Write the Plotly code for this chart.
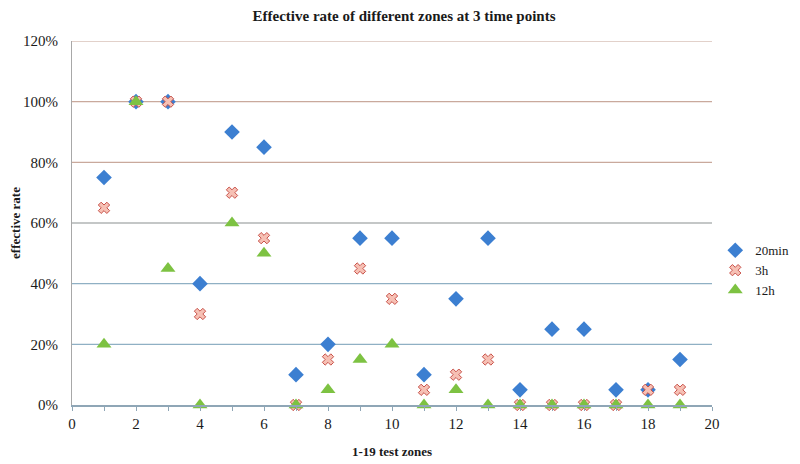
import plotly.graph_objects as go

# test zones 1-19 and effective rates (fraction) at three time points
zones = list(range(1, 20))
rate_20min = [0.75, 1.00, 1.00, 0.40, 0.90, 0.85, 0.10, 0.20, 0.55, 0.55,
              0.10, 0.35, 0.55, 0.05, 0.25, 0.25, 0.05, 0.05, 0.15]
rate_3h = [0.65, 1.00, 1.00, 0.30, 0.70, 0.55, 0.00, 0.15, 0.45, 0.35,
           0.05, 0.10, 0.15, 0.00, 0.00, 0.00, 0.00, 0.05, 0.05]
rate_12h = [0.20, 1.00, 0.45, 0.00, 0.60, 0.50, 0.00, 0.05, 0.15, 0.20,
            0.00, 0.05, 0.00, 0.00, 0.00, 0.00, 0.00, 0.00, 0.00]

grid_levels = [0.2, 0.4, 0.6, 0.8, 1.0, 1.2]
grid_colors = ["#8fb0c4", "#8fb0c4", "#b0b4b4", "#c9a99c", "#c9a99c", "#d8c2b8"]

SERIF = "Liberation Serif, Times New Roman, serif"

fig = go.Figure()
fig.add_trace(go.Scatter(
    x=zones, y=rate_20min, mode="markers", name="20min",
    marker=dict(symbol="diamond", size=12, color="#3c7fd1"),
    cliponaxis=False,
))
fig.add_trace(go.Scatter(
    x=zones, y=rate_3h, mode="markers", name="3h",
    marker=dict(symbol="x", size=10, color="#f6c0b4",
                line=dict(color="#c9524a", width=1)),
    cliponaxis=False,
))
fig.add_trace(go.Scatter(
    x=zones, y=rate_12h, mode="markers", name="12h",
    marker=dict(symbol="triangle-up", size=13, color="#7dc242"),
    cliponaxis=False,
))

for lvl, col in zip(grid_levels, grid_colors):
    fig.add_shape(type="line", xref="paper", x0=0, x1=1, yref="y", y0=lvl, y1=lvl,
                  line=dict(color=col, width=1.3), layer="below")

# page body adds 8px around the figure, so the figure is sized 792x456
fig.update_layout(
    width=792, height=456,
    margin=dict(l=64, r=88, t=33, b=59, autoexpand=False),
    plot_bgcolor="white", paper_bgcolor="white",
    font=dict(family=SERIF, size=15, color="#1a1a1a"),
    title=dict(text="<b>Effective rate of different zones at 3 time points</b>",
               x=0.5, xanchor="center", y=0.995, yanchor="top",
               font=dict(family=SERIF, size=15, color="#1a1a1a")),
    legend=dict(xref="container", x=0.893, y=0.37, xanchor="left", yanchor="middle",
                font=dict(family=SERIF, size=13), itemwidth=30,
                tracegroupgap=2, bgcolor="rgba(0,0,0,0)"),
    showlegend=True,
)
fig.update_xaxes(
    range=[0, 20], dtick=2, showgrid=False, zeroline=False, automargin=False,
    showline=True, linecolor="#8fa6b6", linewidth=1.5,
    ticks="outside", ticklen=4, tickcolor="#8fa6b6",
    minor=dict(dtick=1, ticks="outside", ticklen=4, tickcolor="#8fa6b6"),
    title=dict(text="<b>1-19 test zones</b>", font=dict(family=SERIF, size=13), standoff=16),
    tickfont=dict(family=SERIF, size=15),
)
fig.update_yaxes(
    range=[0, 1.2], dtick=0.2, tickformat=".0%", showgrid=False, zeroline=False,
    automargin=False,
    showline=True, linecolor="#a8a8a8", linewidth=1, ticks="", ticklabelstandoff=10,
    title=dict(text="<b>effective rate</b>", font=dict(family=SERIF, size=13), standoff=6),
    tickfont=dict(family=SERIF, size=15),
)

fig.write_html("out.html")
